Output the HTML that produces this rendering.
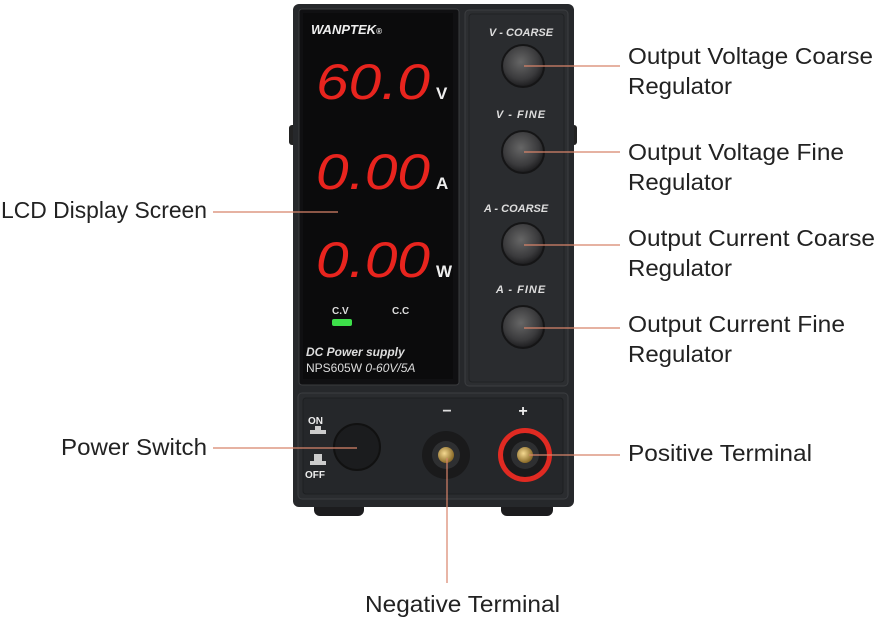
<!DOCTYPE html>
<html><head><meta charset="utf-8"><style>
html,body{margin:0;padding:0;background:#fff;width:877px;height:622px;overflow:hidden}
svg{display:block}
.l{font-family:"Liberation Sans",sans-serif;font-size:23px;fill:#222}
.k{font-family:"Liberation Sans",sans-serif;font-size:11px;fill:#ddd;font-weight:bold;font-style:italic}
.d{font-family:"Liberation Sans",sans-serif;font-size:50px;fill:#e8241e;font-style:italic}
.u{font-family:"Liberation Sans",sans-serif;font-size:17px;fill:#eee;font-weight:bold}
</style></head><body>
<svg width="877" height="622" viewBox="0 0 877 622">
<defs>
<radialGradient id="kn" cx="0.45" cy="0.4" r="0.6"><stop offset="0" stop-color="#666"/><stop offset="0.7" stop-color="#3a3a3c"/><stop offset="1" stop-color="#1c1c1e"/></radialGradient>
<radialGradient id="br" cx="0.4" cy="0.4" r="0.6"><stop offset="0" stop-color="#f4d890"/><stop offset="1" stop-color="#8a6a28"/></radialGradient>
</defs>
<rect x="289" y="125" width="8" height="20" rx="3" fill="#222"/>
<rect x="569" y="125" width="8" height="20" rx="3" fill="#222"/>
<rect x="314" y="498" width="50" height="18" rx="6" fill="#1c1c1e"/>
<rect x="501" y="498" width="52" height="18" rx="6" fill="#1c1c1e"/>
<rect x="293" y="4" width="281" height="503" rx="6" fill="#26282b"/>
<rect x="299" y="9" width="160" height="376" rx="3" fill="#101012" stroke="#3a3b3e"/>
<rect x="303" y="13" width="150" height="366" fill="#0b0b0c"/>
<rect x="465" y="10" width="103" height="376" rx="4" fill="#2c2e31" stroke="#3c3e41"/>
<rect x="469" y="14" width="95" height="368" rx="3" fill="#2a2c2f" stroke="#202224"/>
<rect x="298" y="393" width="270" height="106" rx="4" fill="#2a2c2f" stroke="#3c3e41"/>
<rect x="303" y="398" width="260" height="96" rx="3" fill="#25272a" stroke="#1d1f21"/>
<text x="311" y="34" class="k" style="font-size:13px;fill:#eee">WANPTEK<tspan font-size="8">®</tspan></text>
<text x="316" y="99" class="d" textLength="114" lengthAdjust="spacingAndGlyphs">60.0</text><text x="436" y="99" class="u">V</text>
<text x="316" y="189" class="d" textLength="114" lengthAdjust="spacingAndGlyphs">0.00</text><text x="436" y="189" class="u">A</text>
<text x="316" y="277" class="d" textLength="114" lengthAdjust="spacingAndGlyphs">0.00</text><text x="436" y="277" class="u">W</text>
<text x="332" y="314" font-family="Liberation Sans,sans-serif" font-size="10" fill="#ddd" font-weight="bold">C.V</text>
<text x="392" y="314" font-family="Liberation Sans,sans-serif" font-size="10" fill="#ddd" font-weight="bold">C.C</text>
<rect x="332" y="319" width="20" height="7" rx="2" fill="#3de04a"/>
<text x="306" y="356" class="k" style="font-size:12px">DC Power supply</text>
<text x="306" y="372" font-family="Liberation Sans,sans-serif" font-size="12" fill="#ddd">NPS605W <tspan font-style="italic">0-60V/5A</tspan></text>
<text x="521" y="36" class="k" text-anchor="middle">V - COARSE</text>
<text x="521" y="118" class="k" text-anchor="middle" letter-spacing="1">V  -  FINE</text>
<text x="516" y="212" class="k" text-anchor="middle">A - COARSE</text>
<text x="521" y="293" class="k" text-anchor="middle" letter-spacing="1">A  -  FINE</text>
<circle cx="523" cy="66" r="21" fill="url(#kn)" stroke="#151516" stroke-width="2"/>
<circle cx="523" cy="152" r="21" fill="url(#kn)" stroke="#151516" stroke-width="2"/>
<circle cx="523" cy="244" r="21" fill="url(#kn)" stroke="#151516" stroke-width="2"/>
<circle cx="523" cy="327" r="21" fill="url(#kn)" stroke="#151516" stroke-width="2"/>
<text x="308" y="424" font-family="Liberation Sans,sans-serif" font-size="10" fill="#eee" font-weight="bold">ON</text>
<rect x="310" y="430" width="16" height="4" fill="#ccc"/><rect x="315" y="426" width="6" height="4" fill="#ccc"/>
<rect x="310" y="461" width="16" height="4" fill="#ccc"/><rect x="314" y="454" width="8" height="7" fill="#ccc"/>
<text x="305" y="478" font-family="Liberation Sans,sans-serif" font-size="10" fill="#eee" font-weight="bold">OFF</text>
<circle cx="357" cy="447" r="23" fill="#1b1c1e" stroke="#111" stroke-width="2"/>
<text x="447" y="416" font-family="Liberation Sans,sans-serif" font-size="16" fill="#ddd" font-weight="bold" text-anchor="middle">−</text>
<text x="523" y="416" font-family="Liberation Sans,sans-serif" font-size="16" fill="#eee" font-weight="bold" text-anchor="middle">+</text>
<circle cx="446" cy="455" r="24" fill="#1a1a1b"/>
<circle cx="446" cy="455" r="14" fill="#2e2f31"/>
<circle cx="446" cy="455" r="8" fill="url(#br)"/>
<circle cx="525" cy="455" r="27" fill="#e02a22"/>
<circle cx="525" cy="455" r="22" fill="#1a1a1b"/>
<circle cx="525" cy="455" r="14" fill="#2e2f31"/>
<circle cx="525" cy="455" r="8" fill="url(#br)"/>
<g stroke="#d8846a" stroke-width="1.2">
<line x1="524" y1="66" x2="620" y2="66"/>
<line x1="524" y1="152" x2="620" y2="152"/>
<line x1="524" y1="245" x2="620" y2="245"/>
<line x1="524" y1="328" x2="620" y2="328"/>
<line x1="213" y1="212" x2="338" y2="212"/>
<line x1="213" y1="448" x2="357" y2="448"/>
<line x1="529" y1="455" x2="620" y2="455"/>
<line x1="447" y1="458" x2="447" y2="583"/>
</g>
<text x="628" y="64" class="l" textLength="245" lengthAdjust="spacingAndGlyphs">Output Voltage Coarse</text>
<text x="628" y="94" class="l" textLength="104" lengthAdjust="spacingAndGlyphs">Regulator</text>
<text x="628" y="160" class="l" textLength="216" lengthAdjust="spacingAndGlyphs">Output Voltage Fine</text>
<text x="628" y="190" class="l" textLength="104" lengthAdjust="spacingAndGlyphs">Regulator</text>
<text x="628" y="246" class="l" textLength="247" lengthAdjust="spacingAndGlyphs">Output Current Coarse</text>
<text x="628" y="276" class="l" textLength="104" lengthAdjust="spacingAndGlyphs">Regulator</text>
<text x="628" y="332" class="l" textLength="217" lengthAdjust="spacingAndGlyphs">Output Current Fine</text>
<text x="628" y="362" class="l" textLength="104" lengthAdjust="spacingAndGlyphs">Regulator</text>
<text x="1" y="218" class="l" textLength="206" lengthAdjust="spacingAndGlyphs">LCD Display Screen</text>
<text x="61" y="455" class="l" textLength="146" lengthAdjust="spacingAndGlyphs">Power Switch</text>
<text x="628" y="461" class="l" textLength="184" lengthAdjust="spacingAndGlyphs">Positive Terminal</text>
<text x="365" y="612" class="l" textLength="195" lengthAdjust="spacingAndGlyphs">Negative Terminal</text>
</svg>
</body></html>
